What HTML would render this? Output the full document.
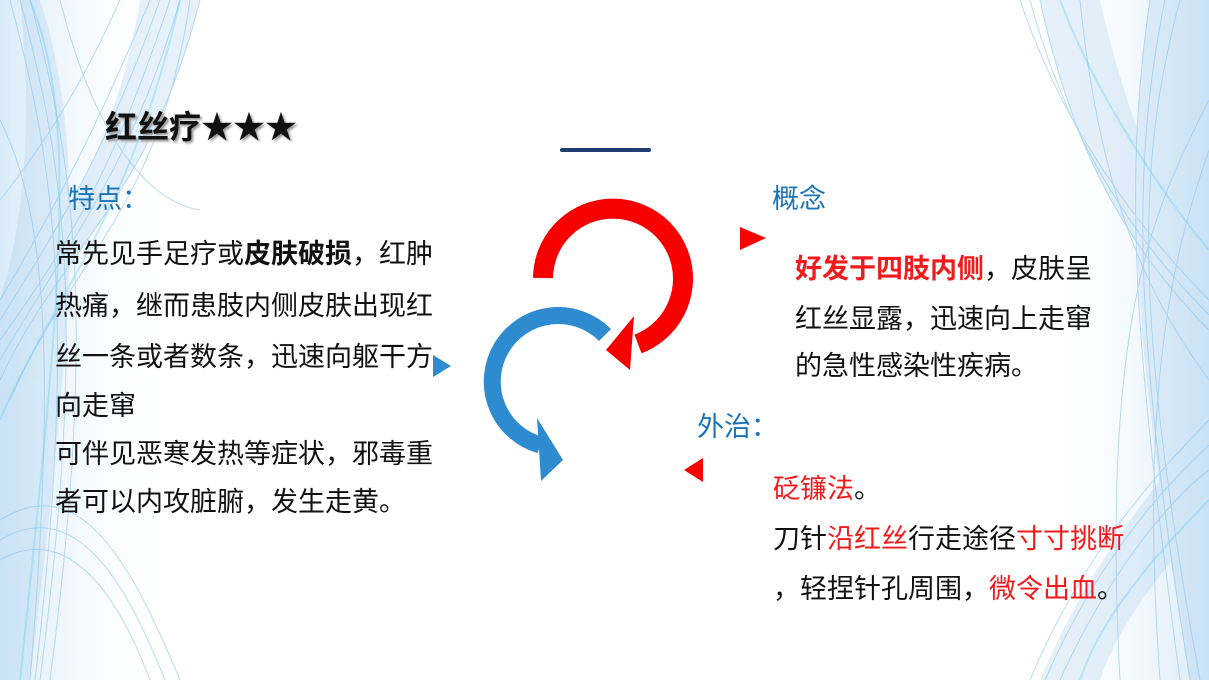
<!DOCTYPE html>
<html><head><meta charset="utf-8"><style>
html,body{margin:0;padding:0;}
body{width:1209px;height:680px;position:relative;overflow:hidden;background:#fff;font-family:"Liberation Sans","Noto Sans CJK SC",sans-serif;}
.t{position:absolute;white-space:nowrap;line-height:1;}
.b{font-size:27px;color:#111;}
.blue{color:#1a73b8;font-size:27px;}
.r{color:#f21a1a;}
</style></head><body>
<svg width="1209" height="680" style="position:absolute;left:0;top:0">
<defs>
<linearGradient id="gl" x1="0" x2="1" y1="0" y2="0"><stop offset="0" stop-color="#cfe6f7"/><stop offset="1" stop-color="#fff" stop-opacity="0"/></linearGradient>
<linearGradient id="gr" x1="1" x2="0" y1="0" y2="0"><stop offset="0" stop-color="#cfe6f7"/><stop offset="1" stop-color="#fff" stop-opacity="0"/></linearGradient>
</defs>
<rect x="0" y="0" width="170" height="680" fill="url(#gl)" opacity="0.8"/>
<rect x="1040" y="0" width="169" height="680" fill="url(#gr)" opacity="0.8"/>
<g fill="#9cc6ea" opacity="0.25">
<path d="M0 380 C60 250 150 200 200 0 L140 0 C110 180 40 240 0 320Z"/>
<path d="M40 0 C90 150 70 350 30 680 L0 680 L0 300 C30 200 30 100 20 0Z"/>
<path d="M1209 330 C1120 240 1070 140 1040 0 L1100 0 C1130 130 1170 220 1209 260Z"/>
<path d="M1150 0 C1120 200 1140 380 1190 680 L1209 680 L1209 0Z"/>
<path d="M1040 680 C1090 560 1160 480 1209 420 L1209 520 C1170 560 1120 620 1100 680Z"/>
</g>
<g fill="none" stroke="#8fc4ea" stroke-width="1" opacity="0.6">
<path d="M0 380 C60 250 150 200 200 0"/><path d="M10 400 C70 260 160 210 190 0"/>
<path d="M0 340 C80 230 120 150 170 0"/><path d="M0 300 C60 200 100 120 150 0"/>
<path d="M0 360 C70 240 130 170 180 0"/><path d="M0 320 C70 210 110 140 160 0"/>
<path d="M0 120 C40 200 60 330 30 680"/><path d="M20 0 C60 150 90 300 40 680"/>
<path d="M10 0 C50 150 80 300 35 680"/><path d="M30 0 C70 150 100 300 50 680"/>
<path d="M0 520 C80 470 130 560 180 680"/><path d="M0 560 C70 520 120 600 150 680"/>
<path d="M0 540 C75 495 125 580 165 680"/>
<path d="M60 0 C90 120 140 200 200 210"/><path d="M0 200 C40 150 80 90 120 0"/>
<path d="M1209 300 C1130 220 1060 120 1020 0"/><path d="M1209 330 C1120 240 1070 140 1040 0"/>
<path d="M1209 315 C1125 230 1065 130 1030 0"/>
<path d="M1209 380 C1150 300 1100 200 1080 0"/><path d="M1180 0 C1140 150 1130 300 1200 680"/>
<path d="M1165 0 C1130 170 1135 340 1190 680"/>
<path d="M1150 0 C1120 200 1140 380 1180 680"/><path d="M1030 680 C1080 560 1150 480 1209 420"/>
<path d="M1060 680 C1110 570 1170 500 1209 470"/><path d="M1045 680 C1095 565 1160 490 1209 445"/>
<path d="M1209 100 C1160 200 1100 300 1120 680"/>
<path d="M1209 150 C1170 260 1140 400 1160 680"/>
</g>
<g fill="none" stroke="#5fd0ef" stroke-width="2" opacity="0.35">
<path d="M0 420 C50 300 130 220 180 0"/><path d="M30 0 C80 120 60 300 20 680"/>
<path d="M1209 250 C1150 180 1090 80 1060 0"/><path d="M1209 500 C1150 560 1100 620 1080 680"/>
</g>
<line x1="562" y1="150" x2="649" y2="150" stroke="#1f3d6e" stroke-width="4" stroke-linecap="round"/>
<path d="M543 278 A70 70 0 1 1 638 344" fill="none" stroke="#f60000" stroke-width="20"/>
<polygon points="634,316 606,350 630,370" fill="#f60000"/>
<path d="M605 335 A66 66 0 1 0 540 445" fill="none" stroke="#2e8bd0" stroke-width="17"/>
<polygon points="537,418 563,460 541,481" fill="#2e8bd0"/>
<polygon points="433,355 451,366 433,377" fill="#2e8bd0"/>
<polygon points="740,227 766,238 740,250" fill="#f00"/>
<polygon points="703,458 684,470 703,482" fill="#f00"/>
</svg>
<div class="t" style="left:105px;top:111px;font-size:32px;color:#111;font-weight:bold;text-shadow:2px 2px 2px #999;">红丝疗★★★</div>
<div class="t blue" style="left:68px;top:186px;">特点：</div>
<div class="t b" style="left:55px;top:241px;">常先见手足疗或<b>皮肤破损</b>，红肿</div>
<div class="t b" style="left:55px;top:293px;">热痛，继而患肢内侧皮肤出现红</div>
<div class="t b" style="left:55px;top:344px;">丝一条或者数条，迅速向躯干方</div>
<div class="t b" style="left:55px;top:393px;">向走窜</div>
<div class="t b" style="left:55px;top:441px;">可伴见恶寒发热等症状，邪毒重</div>
<div class="t b" style="left:55px;top:489px;">者可以内攻脏腑，发生走黄。</div>
<div class="t blue" style="left:772px;top:186px;">概念</div>
<div class="t b" style="left:795px;top:256px;"><b class="r">好发于四肢内侧</b>，皮肤呈</div>
<div class="t b" style="left:795px;top:306px;">红丝显露，迅速向上走窜</div>
<div class="t b" style="left:795px;top:353px;">的急性感染性疾病。</div>
<div class="t blue" style="left:697px;top:414px;">外治：</div>
<div class="t b r" style="left:773px;top:476px;">砭镰法<span style="color:#111">。</span></div>
<div class="t b" style="left:773px;top:526px;">刀针<span class="r">沿红丝</span>行走途径<span class="r">寸寸挑断</span></div>
<div class="t b" style="left:773px;top:576px;">，轻捏针孔周围，<span class="r">微令出血</span>。</div>
</body></html>
